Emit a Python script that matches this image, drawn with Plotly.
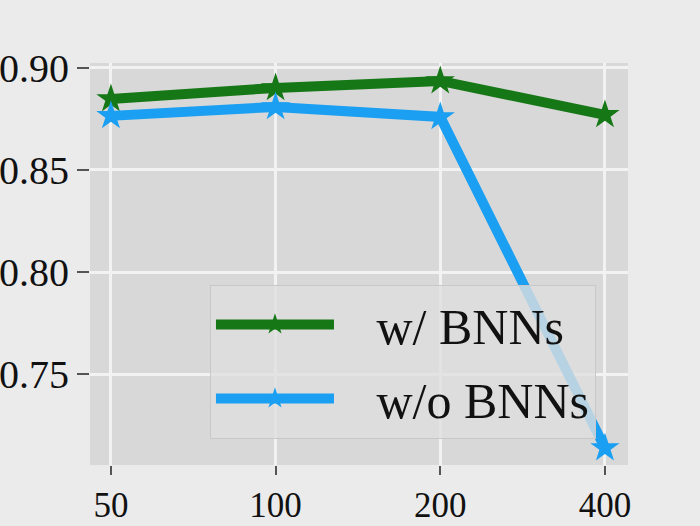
import plotly.graph_objects as go

categories = ["50", "100", "200", "400"]
with_bnn = [0.8848, 0.8902, 0.8936, 0.8770]
without_bnn = [0.8765, 0.8809, 0.8760, 0.7138]
y_ticks = [0.75, 0.80, 0.85, 0.90]
y_tick_text = ["0.75", "0.80", "0.85", "0.90"]
series_names = ["\u00a0\u00a0\u00a0w/ BNNs", "\u00a0\u00a0\u00a0w/o BNNs"]

GREEN = "#167716"
BLUE = "#1a9ff2"
FONT = "Liberation Serif"

fig = go.Figure()
fig.add_trace(go.Scatter(
    x=categories, y=with_bnn, name=series_names[0], mode="lines+markers",
    line=dict(color=GREEN, width=10),
    marker=dict(symbol="star", size=22, color=GREEN),
    legendgroup="a",
))
fig.add_trace(go.Scatter(
    x=categories, y=without_bnn, name=series_names[1], mode="lines+markers",
    line=dict(color=BLUE, width=10),
    marker=dict(symbol="star", size=22, color=BLUE),
    legendgroup="b",
))

fig.update_layout(
    width=700, height=526,
    margin=dict(l=90, r=72, t=63, b=61),
    paper_bgcolor="#ebebeb",
    plot_bgcolor="#d8d8d8",
    font=dict(family=FONT, size=36, color="#111111"),
    showlegend=True,
    legend=dict(
        x=0.223, y=0.449, xanchor="left", yanchor="top",
        bgcolor="rgba(222,222,222,0.8)", bordercolor="#c8c8c8", borderwidth=1,
        font=dict(family=FONT, size=50, color="#111111"),
        itemwidth=118, tracegroupgap=6, traceorder="grouped",
    ),
)
fig.update_xaxes(
    type="category", range=[-0.127, 3.14], automargin=False,
    showgrid=True, gridcolor="#f2f2f2", gridwidth=2.5,
    ticks="outside", ticklen=9, tickwidth=2, tickcolor="#555555",
    tickfont=dict(family=FONT, size=35), zeroline=False, showline=False,
)
fig.update_yaxes(
    range=[0.7055, 0.9024], tickvals=y_ticks, ticktext=y_tick_text, automargin=False,
    showgrid=True, gridcolor="#f2f2f2", gridwidth=2.5,
    ticks="outside", ticklen=12, tickwidth=2, tickcolor="#555555",
    tickfont=dict(family=FONT, size=40), zeroline=False, showline=False,
)

fig.write_html("out.html")
